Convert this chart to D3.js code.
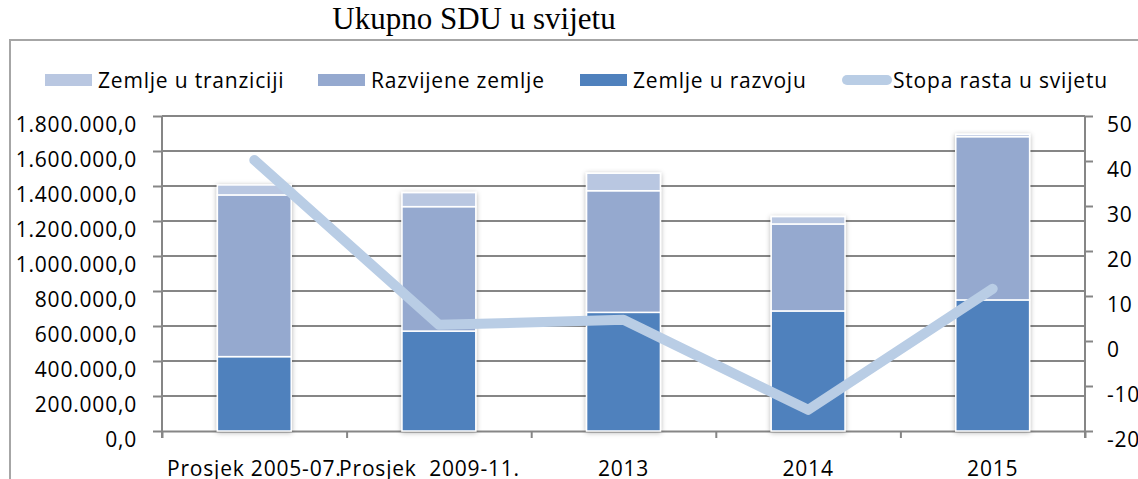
<!DOCTYPE html>
<html>
<head>
<meta charset="utf-8">
<script src="https://cdn.jsdelivr.net/npm/d3@7"></script>
<style>
  body { margin: 0; background: #fff; }
  text { font-family: "Open Sans", sans-serif; fill: #000; letter-spacing: 0.8px; }
  .axis path, .axis line { stroke: #868686; stroke-width: 2; }
  .axis text { font-size: 21px; }
</style>
</head>
<body>
<svg id="chart" width="1138" height="479"></svg>
<script>
// Data
const categories = ["Prosjek 2005-07.", "Prosjek  2009-11.   ", "2013", "2014", "2015"];
const zemljeURazvoju = [425000, 571000, 678000, 686000, 749000];
const razvijeneZemlje = [924000, 711000, 695000, 497000, 933000];
const zemljeUTranziciji = [57000, 80000, 100000, 42000, 13000];
const stopaRasta = [40.2, 3.6, 4.7, -15.3, 11.6];
const leftTicks = [0, 200000, 400000, 600000, 800000, 1000000, 1200000, 1400000, 1600000, 1800000];
const rightTicks = [-20, -10, 0, 10, 20, 30, 40, 50];

const colors = {
  razvoj: "#4f81bd",
  razvijene: "#95a9cf",
  tranzicija: "#b9c7e1",
  stopa: "#b9cde5"
};

const svg = d3.select("#chart");
const margin = { left: 162, right: 1085, top: 116, bottom: 431 };

// frame
svg.append("path")
  .attr("d", "M10,479V40H1138")
  .attr("fill", "none")
  .attr("stroke", "#a6a6a6")
  .attr("stroke-width", 2);

// title
svg.append("text")
  .attr("x", 474).attr("y", 29)
  .attr("text-anchor", "middle")
  .style("font-family", "'Liberation Serif', serif")
  .style("font-size", "31px")
  .style("letter-spacing", "0px")
  .text("Ukupno SDU u svijetu");

const rows = categories.map((c, i) => ({
  cat: c,
  razvoj: zemljeURazvoju[i],
  razvijene: razvijeneZemlje[i],
  tranzicija: zemljeUTranziciji[i]
}));

const x = d3.scaleBand().domain(categories).range([margin.left, margin.right]).padding(0);
const xb = d3.scaleLinear().domain([0, categories.length]).range([margin.left, margin.right]);
const y = d3.scaleLinear().domain([0, 1800000]).range([margin.bottom, margin.top]);
const y2 = d3.scaleLinear().domain([-20, 50]).range([margin.bottom, margin.top]);

const locale = d3.formatLocale({ decimal: ",", thousands: ".", grouping: [3], currency: ["", ""], minus: "-" });
const fmt = locale.format(",.1f");
const fmt2 = locale.format("d");

// gridlines
svg.append("g")
  .selectAll("line")
  .data(leftTicks.filter(d => d > 0))
  .join("line")
  .attr("x1", margin.left).attr("x2", margin.right)
  .attr("y1", d => y(d)).attr("y2", d => y(d))
  .attr("stroke", "#868686")
  .attr("stroke-width", 2);

// left axis
const gLeft = svg.append("g")
  .attr("class", "axis")
  .attr("transform", `translate(${margin.left},0)`)
  .call(d3.axisLeft(y).tickValues(leftTicks).tickFormat(fmt).tickSizeInner(9).tickSizeOuter(0).tickPadding(16));
gLeft.select(".domain").attr("d", `M0,${margin.top}V${margin.bottom + 7}`);
gLeft.selectAll("text").attr("dy", "0.95em").attr("y", -4);

// right axis
const gRight = svg.append("g")
  .attr("class", "axis")
  .attr("transform", `translate(${margin.right},0)`)
  .call(d3.axisRight(y2).tickValues(rightTicks).tickFormat(fmt2).tickSizeInner(8).tickSizeOuter(0).tickPadding(14));
gRight.select(".domain").attr("d", `M0,${margin.top}V${margin.bottom + 7}`);
gRight.selectAll("text").attr("dy", "0.95em").attr("y", -4);

// bottom axis (boundary ticks)
svg.append("g")
  .attr("class", "axis")
  .attr("transform", `translate(0,${margin.bottom})`)
  .call(d3.axisBottom(xb).tickValues(d3.range(categories.length + 1)).tickFormat("").tickSizeInner(7).tickSizeOuter(0));

// category labels
svg.append("g")
  .selectAll("text")
  .data(categories)
  .join("text")
  .attr("x", d => x(d) + x.bandwidth() / 2)
  .attr("y", 476)
  .attr("text-anchor", "middle")
  .style("font-size", "21px")
  .style("white-space", "pre")
  .text(d => d);

// bar shadow
const defs = svg.append("defs");
const filter = defs.append("filter").attr("id", "shadow")
  .attr("x", "-20%").attr("y", "-10%").attr("width", "140%").attr("height", "120%");
filter.append("feDropShadow")
  .attr("dx", 0).attr("dy", 1)
  .attr("stdDeviation", 2.5)
  .attr("flood-color", "#000")
  .attr("flood-opacity", 0.3);

// stacked bars
const keys = ["razvoj", "razvijene", "tranzicija"];
const series = d3.stack().keys(keys)(rows);
const barW = x.bandwidth() * 0.4;

const barGroups = svg.append("g")
  .selectAll("g")
  .data(rows)
  .join("g")
  .attr("filter", "url(#shadow)");

barGroups.each(function(row, i) {
  d3.select(this)
    .selectAll("rect")
    .data(series.map(s => ({ key: s.key, v: s[i] })))
    .join("rect")
    .attr("x", x(row.cat) + (x.bandwidth() - barW) / 2)
    .attr("width", barW)
    .attr("y", d => y(d.v[1]))
    .attr("height", d => y(d.v[0]) - y(d.v[1]))
    .attr("fill", d => colors[d.key])
    .attr("stroke", "#fff")
    .attr("stroke-width", 1.5);
});

// growth rate line
const line = d3.line()
  .x((d, i) => x(categories[i]) + x.bandwidth() / 2)
  .y(d => y2(d));

svg.append("path")
  .datum(stopaRasta)
  .attr("d", line)
  .attr("fill", "none")
  .attr("stroke", colors.stopa)
  .attr("stroke-width", 10)
  .attr("stroke-linejoin", "round")
  .attr("stroke-linecap", "round");

// legend
const legendItems = [
  { label: "Zemlje u tranziciji", color: colors.tranzicija, x: 45, type: "rect" },
  { label: "Razvijene zemlje", color: colors.razvijene, x: 318, type: "rect" },
  { label: "Zemlje u razvoju", color: colors.razvoj, x: 580, type: "rect" },
  { label: "Stopa rasta u svijetu", color: colors.stopa, x: 843, type: "line" }
];

const legend = svg.append("g")
  .selectAll("g")
  .data(legendItems)
  .join("g")
  .attr("transform", d => `translate(${d.x},0)`);

legend.filter(d => d.type === "rect")
  .append("rect")
  .attr("x", 0).attr("y", 74)
  .attr("width", 47).attr("height", 12)
  .attr("fill", d => d.color);

legend.filter(d => d.type === "line")
  .append("line")
  .attr("x1", 4).attr("x2", 44)
  .attr("y1", 80).attr("y2", 80)
  .attr("stroke", d => d.color)
  .attr("stroke-width", 10)
  .attr("stroke-linecap", "round");

legend.append("text")
  .attr("x", d => d.type === "line" ? 50 : 53)
  .attr("y", 88)
  .style("font-size", "21px")
  .text(d => d.label);
</script>
</body>
</html>
